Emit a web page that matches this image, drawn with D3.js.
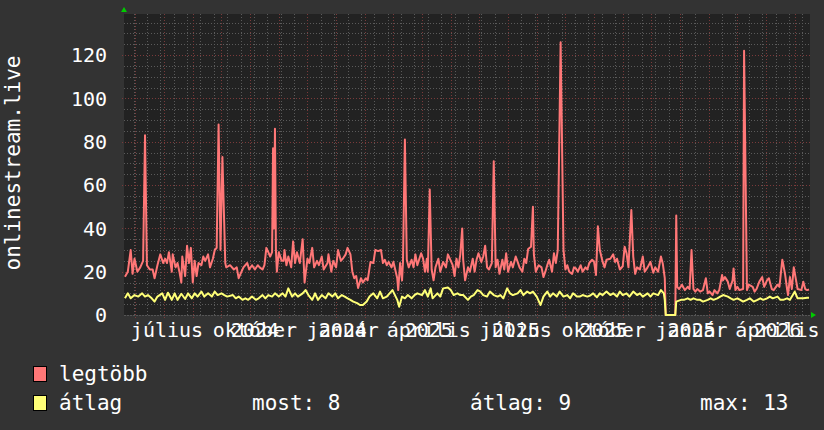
<!DOCTYPE html>
<html><head><meta charset="utf-8">
<script src="https://cdn.jsdelivr.net/npm/d3@7"></script>
<style>
html,body{margin:0;padding:0;background:#333333;}
svg{display:block;}
text{font-family:"DejaVu Sans Mono",monospace;fill:#ffffff;}
</style></head>
<body><svg id="c" width="824" height="430"></svg>
<script>
// ---- data ----
const startDate = new Date(2024, 4, 17);
const endDate = new Date(2026, 4, 5);
const yTicks = [0, 20, 40, 60, 80, 100, 120];
const monthLabels = ["július","október","január","április","július","október","január","április"];
const monthTicks = ["2024-07-01","2024-10-01","2025-01-01","2025-04-01","2025-07-01","2025-10-01","2026-01-01","2026-04-01"];
const yearLabels = ["2024","2024","2025","2025","2025","2025","2026"];
const yearTicks = ["2024-10-01","2025-01-01","2025-04-01","2025-07-01","2025-10-01","2026-01-01","2026-04-01"];
// legtöbb (max) : [day offset from startDate, value]
const legtobb = [[1,17.7],[4,20],[7,30],[9,19],[11,26],[14,20],[17,22],[20,25],[22,83],[24,23],[27,21],[30,21],[32,17],[35,23],[38,28],[41,24],[43,26],[45,24],[47,29],[50,20],[51,28],[54,22],[56,24],[58,20],[60,15],[61,27],[64,18],[66,32],[68,24],[70,31],[72,15],[74,25],[76,18],[78,24],[81,23],[83,27],[85,25],[88,28],[90,22],[93,26],[95,30],[97,31],[99,88],[101,30],[103,73],[106,24],[107,22],
[111,23],[115,21],[118,22],[120,17],[123,20],[125,22],[129,24],[131,21],[134,23],[137,21],[140,23],[142,22],[145,21],[147,23],[149,31],[151,29],[153,27],[155,29],[156,77],[157,40],[158,86],[159,30],[160,20],[162,29],[165,25],[167,25],[168,30],[170,23],[172,27],[175,22],[177,34],[179,24],[181,29],[184,24],[187,35],[189,15],[192,26],[194,24],[197,31],[199,22],[202,25],[204,23],[207,27],[209,21],[213,24],[214,28],[217,20],[219,25],[222,22],[224,30],[227,25],[229,26],[232,28],[234,31],[237,28],[239,20],[241,17],[243,18],[245,12.5],[248,17],[250,15],[253,17],[255,16],[258,24.5],[261,24],[263,30],[266,29.5],[269,30],[271,24],[273,25.5],[275,23],[277,24.5],[280,22],[282,24.5],[286,17],[287,11.5],[289,24],[291,16],[292,24.5],[294,81],[296,25.5],[298,22],[301,25.5],[303,22],[305,28],[307,23],[311,28.5],[313,26],[315,20],[317,26],[318,20],[320,58],[322,21],[324,16],[326,22],
[329,26],[331,20],[334,24.5],[337,22],[339,28],[341,26],[344,23],[346,18],[348,26],[350,22],[352,28],[354,40],[355,25.5],[357,16],[360,22],[362,20],[365,26],[367,20],[369,25.5],[371,28.5],[374,24.5],[376,27],[378,32],[380,22],[382,21],[385,24],[387,71],[389,22],[391,25.5],[393,19],[396,25.5],[398,21],[400,28.5],[402,20],[405,24.5],[407,22],[410,27],[412,24.5],[414,22],[417,20],[419,26],[421,24],[423,30.5],[426,31.5],[428,50],[429,28],[431,20],[434,23],[437,22],[439,17.5],[441,20],[443,23],[445,25.5],[448,20],[450,28.5],[452,24],[454,30],[457,126],[460,30],[462,21],[464,23],[466,20],[469,19],[471,22],[473,21.5],[475,20],[478,23],[480,20],[483,22],[485,21],[487,24],[490,25.5],[492,24.5],[494,18.5],[496,41],[498,30],[501,24.5],[503,22],[505,25.5],[509,26],[512,28],[514,24.5],[516,26],[519,21],[522,22.5],[524,31.5],[526,28.5],[528,22],[531,48.5],[533,27],[535,19],[537,22],[540,21],[543,27],[545,20],
[548,22],[551,24.5],[554,19.5],[556,22],[559,20],[562,27],[564,23.5],[566,17],[567,0],[577,0],[578,46],[579,13],[581,12],[584,14],[587,11.5],[590,13],[592,12],[594,30],[596,12],[598,10.8],[600,12],[603,10.8],[606,11.5],[609,17],[611,10],[613,10.8],[616,9.2],[618,11.5],[621,10],[623,11.5],[626,18.5],[627,16],[629,17.5],[632,15.4],[634,12],[637,16],[638,21.5],[640,11.5],[642,13],[644,11.5],[648,12],[649,122],[652,11.5],[654,14],[658,13],[660,10.8],[662,12],[665,15.4],[668,17.5],[670,13],[673,16],[675,17],[678,12],[680,11.5],[684,14],[686,13],[689,25.5],[690,23.5],[692,18.5],[694,12],[695,9.2],[697,17.5],[699,12],[701,22],[703,17],[705,12],[709,11.5],[711,15.4],[713,12],[715,11.5],[717,11.8]];
// átlag (average) : [day offset from startDate, value]
const atlag = [[1,7.7],[4,10],[7,7.7],[11,9.2],[15,8.5],[19,10],[22,8.5],[25,9.2],[29,7.7],[32,6.2],[35,8.5],[40,10],[43,7],[46,10.3],[50,7],[53,10],[56,7],[60,9.8],[64,7.4],[67,10],[71,7.7],[74,10],[77,8.5],[81,10.8],[84,8.5],[88,10],[92,8.5],[95,10.8],[98,9.2],[102,10],[105,9.2],[108,8.5],
[114,9.2],[117,7.7],[120,8.5],[124,7],[127,7.7],[130,7],[134,8.5],[138,7],[141,7.7],[145,9.2],[148,7.7],[151,9.2],[155,8.5],[158,10],[162,8.5],[166,10],[169,8.5],[172,12.3],[176,8.5],[179,10],[182,8.5],[187,10],[190,11.5],[193,9.2],[197,7],[200,10],[203,7],[207,9.2],[211,7.7],[214,10],[218,8.5],[221,10],[224,7.7],[228,9.2],[231,8.5],[234,7.7],[237,7],[240,6.2],[244,5.5],[247,4.6],[250,4.6],[254,6.2],[257,8.5],[261,10],[265,7.7],[268,10.8],[271,7.7],[275,8.5],[278,10],[281,11.5],[286,7],[288,3.8],[291,8.5],[294,7.7],[297,9.2],[301,7.7],[304,9.2],[307,10],[312,9.2],[315,11.5],[318,8.5],[321,12.3],[323,7.7],
[328,10],[331,8.5],[334,12.3],[339,12.7],[342,11.5],[345,9.2],[349,10],[352,9.2],[355,9.2],[360,7],[363,8.5],[366,9.2],[370,11.5],[373,10.8],[376,9.2],[380,8.5],[383,10.8],[387,9.2],[391,8.5],[394,9.2],[397,7.7],[401,12.3],[404,10],[407,9.2],[412,10],[415,11.5],[418,9.2],[422,10.8],[425,10],[428,10.8],[432,8.5],[436,4.6],[439,8.5],[443,10.8],[446,8.5],[449,10],[453,8.5],[456,10.8],[460,8.5],[464,9.2],[467,7.7],[470,10],[474,8.5],[477,8.5],[480,9.2],[485,8.5],[488,9],[491,10],[495,8.2],[498,10],[501,9.2],[505,10.8],[509,9.2],[512,10],[516,8.5],[519,10.8],[522,9.2],[526,10],[529,8.5],[533,10.8],[537,9.2],[540,10],[543,8.5],
[548,10],[551,8.5],[554,10],[559,9.2],[562,11.5],[565,10],[566,7],[567,0],[577,0],[578,6.2],[583,7],[586,7],[590,7.7],[593,7],[596,7.7],[600,7],[603,7],[606,6.2],[611,7],[614,7.7],[617,7],[621,7.7],[624,8.5],[627,9.2],[632,8.5],[635,7.7],[638,7],[642,7.7],[645,7],[648,6.2],[652,7],[655,7.7],[659,6.2],[663,7],[666,7.7],[669,7],[673,7.7],[676,8.5],[679,7.7],[684,8.5],[687,7],[690,7],[694,7.7],[697,7],[700,9.2],[702,10.8],[705,7.7],[708,7.7],[711,7.7],[715,8],[717,8]];
const legendNames = ["legtöbb", "átlag"];
const legendStats = ["most: 8", "átlag: 9", "max: 13"];
const axisTitle = "onlinestream.live";

// ---- drawing ----
const svg = d3.select("#c");
const W = 824, H = 430;
const L = 124, R = 810, T = 14, B = 315;
svg.append("rect").attr("width", W).attr("height", H).attr("fill", "#333333");
svg.append("rect").attr("x", L).attr("y", T).attr("width", R - L).attr("height", B - T).attr("fill", "#222222");

const x = d3.scaleTime().domain([startDate, endDate]).range([L, R]);
const y = d3.scaleLinear().domain([0, 139]).range([B, T]);
const day = d => d3.timeDay.offset(startDate, d);

const g = svg.append("g");
// horizontal minor grid every 5
d3.range(5, 139, 5).filter(v => v % 20 !== 0).forEach(v => {
  g.append("line").attr("x1", L).attr("x2", R).attr("y1", Math.round(y(v)) + 0.5).attr("y2", Math.round(y(v)) + 0.5)
    .attr("stroke", "#5a5a5a").attr("stroke-dasharray", "1,2");
});
// vertical minor grid every 2 weeks
d3.range(10, 718, 14).forEach(d => {
  const xx = Math.round(x(day(d))) + 0.5;
  g.append("line").attr("x1", xx).attr("x2", xx).attr("y1", T).attr("y2", B)
    .attr("stroke", "#5a5a5a").attr("stroke-dasharray", "1,2");
});
// major grid
yTicks.filter(v => v > 0).forEach(v => {
  g.append("line").attr("x1", L - 2).attr("x2", R).attr("y1", Math.round(y(v)) + 0.5).attr("y2", Math.round(y(v)) + 0.5)
    .attr("stroke", "#7a3a3a").attr("stroke-dasharray", "1,2");
});
d3.range(12, 718, 30).forEach(d => {
  const xx = Math.round(x(day(d))) + 0.5;
  g.append("line").attr("x1", xx).attr("x2", xx).attr("y1", T).attr("y2", B + 3)
    .attr("stroke", "#7a3a3a").attr("stroke-dasharray", "1,2");
});
// x axis line
g.append("line").attr("x1", L).attr("x2", R + 2).attr("y1", B + 0.5).attr("y2", B + 0.5).attr("stroke", "#555").attr("stroke-dasharray", "2,1");

// series
const line = d3.line().x(d => x(day(d[0]))).y(d => y(d[1]));
svg.append("path").datum(legtobb).attr("d", line).attr("fill", "none").attr("stroke", "#ff7777").attr("stroke-width", 2).attr("stroke-linejoin", "round");
svg.append("path").datum(atlag).attr("d", line).attr("fill", "none").attr("stroke", "#ffff77").attr("stroke-width", 2).attr("stroke-linejoin", "round");

// arrows
svg.append("path").attr("d", `M${L - 3},${T - 2} L${L + 3},${T - 2} L${L},${T - 7} Z`).attr("fill", "#00cc00");
svg.append("path").attr("d", `M${R + 1},${B - 3} L${R + 1},${B + 3} L${R + 6},${B} Z`).attr("fill", "#00cc00");

// y labels
yTicks.forEach(v => {
  svg.append("text").attr("x", 107).attr("y", y(v)).attr("dy", "0.36em").attr("text-anchor", "end")
    .attr("font-size", 20).text(v);
});
// axis title
svg.append("text").attr("transform", "translate(20,163) rotate(-90)").attr("text-anchor", "middle")
  .attr("font-size", 21).text(axisTitle);

// x labels (month names and years overlap, as in the reference)
monthLabels.forEach((m, i) => {
  svg.append("text").attr("x", x(new Date(monthTicks[i] + "T00:00"))).attr("y", 337).attr("text-anchor", "middle")
    .attr("font-size", 20).text(m);
});
yearLabels.forEach((yl, i) => {
  svg.append("text").attr("x", x(new Date(yearTicks[i] + "T00:00"))).attr("y", 337).attr("text-anchor", "middle")
    .attr("font-size", 20).text(yl);
});

// legend
const colors = ["#ff7777", "#ffff77"];
legendNames.forEach((n, i) => {
  const yy = 381 + i * 29;
  svg.append("rect").attr("x", 33.5).attr("y", yy - 14.5).attr("width", 13).attr("height", 15)
    .attr("fill", colors[i]).attr("stroke", "#000").attr("stroke-width", 1);
  svg.append("text").attr("x", 59).attr("y", yy).attr("font-size", 21).text(n);
});
const statX = [252, 470, 700];
legendStats.forEach((s, i) => {
  svg.append("text").attr("x", statX[i]).attr("y", 410).attr("font-size", 21).text(s);
});
</script></body></html>
